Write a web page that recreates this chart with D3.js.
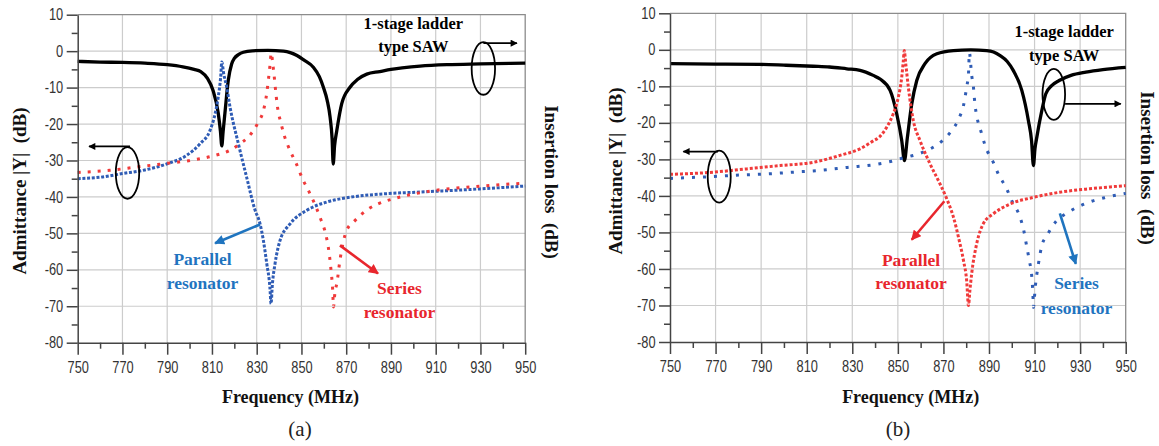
<!DOCTYPE html>
<html>
<head>
<meta charset="utf-8">
<script src="https://cdn.jsdelivr.net/npm/d3@7"></script>
<style>
  html, body { margin: 0; padding: 0; background: #fff; }
  svg { display: block; }
</style>
</head>
<body>
<svg id="chart" width="1159" height="446"></svg>
<script>
// Axis ticks
const freqTicks = [750, 770, 790, 810, 830, 850, 870, 890, 910, 930, 950];
const freqMinorTicks = [760, 780, 800, 820, 840, 860, 880, 900, 920, 940];
const levelTicks = [10, 0, -10, -20, -30, -40, -50, -60, -70, -80];
const levelMinorTicks = [5, -5, -15, -25, -35, -45, -55, -65, -75];

// (a) insertion loss of the 1-stage ladder filter, [MHz, dB]
const aLadder = [[750,-2.8],[760,-3.0],[770,-3.1],[780,-3.3],[790,-3.7],[797,-4.3],[802,-5.0],[805,-5.6],
  [808,-7.5],[810.5,-10.8],[812.8,-17],[813.8,-22],[814.4,-26],[815,-22],[815.8,-17],[817.3,-8],
  [818.8,-3.5],[820,-2],[822,-0.9],[824,-0.3],[828,0.1],[835,0.2],[842,0],[845,-0.4],[848,-1.2],
  [851,-2.4],[855.3,-4.4],[858,-7],[859.8,-9.9],[861.5,-13.5],[862.8,-18.1],[863.7,-24],[864.2,-31],
  [864.8,-26],[865.8,-21.8],[868,-14.4],[871.7,-9.9],[875,-7.8],[879.2,-6.3],[885,-5.6],[890,-5.0],
  [895,-4.6],[903,-4.1],[915,-3.7],[930,-3.5],[950,-3.3]];
// (a) admittance of the parallel resonator
const aParallel = [[750,-35],[760,-34.6],[770,-33.6],[780,-32.6],[790,-30.9],[798.7,-28.6],[804.7,-25.4],
  [809.1,-21.8],[811.4,-17.2],[812.8,-12.6],[813.9,-7.1],[814.4,-3],[815.2,-6],[816.6,-9.9],[818.1,-15.4],
  [821.8,-25.4],[825.5,-34.6],[829.2,-43.5],[831.5,-47.4],[833,-52],[834.5,-58.3],[835.9,-64.8],
  [836.4,-69.3],[837,-64],[838.2,-58.3],[840.4,-52],[844.9,-47.4],[852.3,-43.7],[861.3,-41.4],
  [871.7,-40.1],[888.1,-39.1],[901.5,-38.7],[929.8,-37.8],[950,-37]];
// (a) admittance of the series resonator
const aSeries = [[750,-33.3],[764.4,-32.7],[776.4,-31.8],[788.3,-30.9],[800.2,-30],[811.4,-28.6],
  [818.1,-27.2],[822.5,-25.4],[826.2,-23.6],[830.7,-19.5],[833,-16.3],[834.5,-11.5],[835.2,-8],
  [836,-3.5],[836.5,-0.5],[837.2,-3.5],[837.7,-6.2],[838.6,-11.7],[839.2,-14.9],[840.9,-19.9],
  [842.2,-22.9],[845.2,-27.7],[847.5,-30.6],[850.8,-35.5],[853.1,-38.2],[858.3,-45.6],[861,-50.6],
  [862,-53.8],[863.2,-60],[864,-66],[864.3,-70.2],[865,-66],[865.8,-63.8],[867.2,-57.4],[870.2,-49.2],
  [873.9,-46.5],[879.9,-43.3],[884.3,-41.9],[891.1,-40.5],[897,-39.6],[907.5,-38.4],[931.3,-37],[950,-36.2]];

// (b) insertion loss of the 1-stage ladder filter
const bLadder = [[750,-3.8],[770,-3.9],[789.5,-4.0],[800,-4.2],[812.9,-4.5],[820,-4.7],[827.6,-5.2],
  [833.4,-5.6],[839.2,-7.0],[842.2,-8.0],[846.6,-11.1],[849.5,-17.5],[851.7,-24.8],[852.9,-30.3],
  [854.2,-23.9],[856.1,-14.8],[858.3,-8.4],[861.9,-3.8],[867.1,-1.1],[874.4,-0.2],[882,0],[889,-0.2],
  [892,-0.6],[894.9,-1.6],[898,-3.2],[900.7,-5.7],[904.4,-11.1],[907.3,-19.4],[908.7,-25],[909.5,-31.7],
  [910.2,-27],[911,-23.9],[913.2,-16.6],[914.9,-12.1],[917.5,-9.8],[920.8,-8.4],[926,-7.0],[932.5,-6.1],
  [940,-5.4],[950,-4.8]];
// (b) admittance of the parallel resonator
const bParallel = [[750,-34.1],[769,-33.5],[783.7,-32.6],[798.3,-31.7],[812.9,-30.8],[824.6,-28.9],
  [833.4,-27.1],[839,-25.0],[842,-23.8],[845.1,-21.2],[848,-17.5],[850.2,-13],[851.7,-7.5],[852.4,-3],
  [852.8,-0.2],[853.5,-4],[854.6,-10.2],[856.8,-19.4],[859.7,-24.8],[864.1,-31.2],[868.5,-36.7],
  [871.2,-40.4],[874.4,-45.8],[876.6,-51.3],[878.8,-57.7],[880.2,-63.2],[881,-70],[881.6,-66],
  [882.4,-61.3],[884.6,-53.1],[887.5,-47.6],[891.9,-44.9],[899.3,-42.2],[909.5,-40.4],[921,-39],
  [935,-38],[950,-37.2]];
// (b) admittance of the series resonator
const bSeries = [[750,-35.2],[768.7,-34.7],[780.4,-34.3],[792.1,-34],[804.1,-33.5],[816.1,-33],
  [827.8,-32.2],[840,-31.4],[847.3,-30.5],[851.7,-29.7],[859,-28.5],[863.4,-27.4],[869.7,-24.8],
  [873,-22.6],[877,-18.5],[878.8,-15.3],[880.2,-10.2],[881,-6.6],[881.4,-0.8],[882.4,-7],[883.1,-9.8],
  [883.9,-15.3],[884.6,-18],[886.8,-23],[888.3,-26.2],[891.9,-30.8],[894.1,-34],[897.8,-38.1],
  [900,-41.3],[903.6,-45.8],[905.1,-49],[906.6,-54],[907.7,-57.7],[908.8,-62.3],[909.3,-67.3],
  [909.5,-70.5],[910.3,-65],[911.7,-58.6],[913.2,-53.6],[915.4,-50.9],[919.8,-46.7],[923.7,-44.9],
  [934,-41.7],[941.3,-40.4],[950,-39.3]];

const BLUE_DOT = "#2f5cb5";
const RED_DOT = "#f03a3a";
const BLUE_TXT = "#1f74bf";
const RED_TXT = "#e8262d";

const svg = d3.select("#chart");
const defs = svg.append("defs");

function arrowMarker(id, color, w, h) {
  defs.append("marker")
    .attr("id", id)
    .attr("viewBox", "0 0 10 10")
    .attr("refX", 9).attr("refY", 5)
    .attr("markerUnits", "userSpaceOnUse")
    .attr("markerWidth", w).attr("markerHeight", h)
    .attr("orient", "auto")
    .append("path").attr("d", "M0,0 L10,5 L0,10 Z").attr("fill", color);
}
arrowMarker("head-black", "#000", 9, 7);
arrowMarker("head-blue", BLUE_TXT, 11, 10);
arrowMarker("head-red", RED_TXT, 11, 10);

const serif = "'Liberation Serif', 'Times New Roman', serif";
const sans = "'Liberation Sans', Arial, sans-serif";

const panels = [
  {
    left: 77.7, right: 525.2, top: 14.7, bottom: 342.7,
    ladder: aLadder,
    dotted: [
      { data: aParallel, color: BLUE_DOT, dash: "3,1.7" },
      { data: aSeries, color: RED_DOT, dash: "3,7" }
    ],
    leftTitle: { x: 25.5, y: 191 }, rightTitle: { x: 545, y: 182 },
    freqTitle: { x: 290.5 }, caption: { x: 300, text: "(a)" },
    ladderText: { f: 900, v1: 6.15, v2: -0.27 },
    leftOval: { f: 772.26, v: -33.42, rf: 5.23, rv: 7.08 },
    leftArrow: { f1: 773.4, f2: 755.05, v: -26.15 },
    rightOval: { f: 931.3, v: -4.75, rf: 5.23, rv: 7.22 },
    rightArrow: { f1: 931.3, f2: 946.3, v: 2.2 },
    notes: [
      { lines: ["Parallel", "resonator"], f: 805.8, v: [-58.8, -65.2], color: BLUE_TXT,
        arrow: { f1: 831.5, v1: -47.56, f2: 811.4, v2: -52.7, head: "head-blue" } },
      { lines: ["Series", "resonator"], f: 893.8, v: [-66.6, -73.2], color: RED_TXT,
        arrow: { f1: 867.2, v1: -53.3, f2: 884.2, v2: -61, head: "head-red" } }
    ]
  },
  {
    left: 670, right: 1125.7, top: 13.3, bottom: 342,
    ladder: bLadder,
    dotted: [
      { data: bSeries, color: BLUE_DOT, dash: "3,8" },
      { data: bParallel, color: RED_DOT, dash: "3,2" }
    ],
    leftTitle: { x: 621.7, y: 171 }, rightTitle: { x: 1140.7, y: 168 },
    freqTitle: { x: 910.7 }, caption: { x: 898, text: "(b)" },
    ladderText: { f: 923, v1: 3.64, v2: -2.93 },
    leftOval: { f: 771.6, v: -34.7, rf: 5.05, rv: 7.12 },
    leftArrow: { f1: 771.07, f2: 755.84, v: -27.85 },
    rightOval: { f: 918.44, v: -12.19, rf: 4.96, rv: 6.98 },
    rightArrow: { f1: 923.4, f2: 947.85, v: -14.79 },
    notes: [
      { lines: ["Parallel", "resonator"], f: 855.8, v: [-59.1, -65.4], color: RED_TXT,
        arrow: { f1: 870.4, v1: -41.46, f2: 856.1, v2: -52.0, head: "head-red" } },
      { lines: ["Series", "resonator"], f: 928.4, v: [-65.4, -72.3], color: BLUE_TXT,
        arrow: { f1: 921.1, v1: -44.8, f2: 928.1, v2: -58.6, head: "head-blue" } }
    ]
  }
];

function squeezeTickText(sel, factor) {
  sel.selectAll(".tick text").each(function () {
    const w = this.getComputedTextLength();
    this.setAttribute("textLength", (w * factor).toFixed(2));
    this.setAttribute("lengthAdjust", "spacingAndGlyphs");
  });
}

function drawPanel(p) {
  const x = d3.scaleLinear().domain([750, 950]).range([p.left, p.right]);
  const y = d3.scaleLinear().domain([-80, 10]).range([p.bottom, p.top]);
  const g = svg.append("g");

  // grid
  const grid = g.append("g").attr("stroke", "#cccccc").attr("stroke-width", 1.2);
  grid.selectAll("line.h").data(levelTicks.filter(v => v > -80 && v < 10)).join("line")
    .attr("x1", p.left).attr("x2", p.right)
    .attr("y1", d => y(d)).attr("y2", d => y(d));
  grid.selectAll("line.v").data(freqTicks.filter(f => f > 750 && f < 950)).join("line")
    .attr("y1", p.top).attr("y2", p.bottom)
    .attr("x1", d => x(d)).attr("x2", d => x(d));

  // top and right frame
  g.append("path")
    .attr("d", `M${x(750)},${y(10)}H${x(950)}V${y(-80)}`)
    .attr("fill", "none").attr("stroke", "#8c8c8c").attr("stroke-width", 1.3);

  const line = d3.line().x(d => x(d[0])).y(d => y(d[1])).curve(d3.curveMonotoneX);

  // filter response
  g.append("path").datum(p.ladder).attr("d", line)
    .attr("fill", "none").attr("stroke", "#000").attr("stroke-width", 3.3)
    .attr("stroke-linejoin", "round");

  // resonator admittances
  p.dotted.forEach(s => {
    g.append("path").datum(s.data).attr("d", line)
      .attr("fill", "none").attr("stroke", s.color).attr("stroke-width", 3)
      .attr("stroke-dasharray", s.dash);
  });

  // axes
  const yAxis = g.append("g").attr("transform", `translate(${p.left},0)`)
    .call(d3.axisLeft(y).tickValues(levelTicks).tickSize(11).tickSizeOuter(0).tickPadding(3.5)
      .tickFormat(d => String(d)));
  g.append("g").attr("transform", `translate(${p.left},0)`)
    .call(d3.axisLeft(y).tickValues(levelMinorTicks).tickSize(6).tickFormat(""))
    .call(a => a.select(".domain").remove());
  const xAxis = g.append("g").attr("transform", `translate(0,${p.bottom})`)
    .call(d3.axisBottom(x).tickValues(freqTicks).tickSize(12).tickSizeOuter(0).tickPadding(7)
      .tickFormat(d => String(d)));
  g.append("g").attr("transform", `translate(0,${p.bottom})`)
    .call(d3.axisBottom(x).tickValues(freqMinorTicks).tickSize(6).tickFormat(""))
    .call(a => a.select(".domain").remove());

  g.selectAll(".domain, .tick line").attr("stroke", "#444").attr("stroke-width", 1.5);
  [yAxis, xAxis].forEach(a => {
    a.selectAll(".tick text").attr("font-family", sans).attr("font-size", 16).attr("fill", "#333");
    squeezeTickText(a, 0.8);
  });

  // axis titles
  g.append("text")
    .attr("transform", `translate(${p.leftTitle.x},${p.leftTitle.y}) rotate(-90)`)
    .attr("text-anchor", "middle").attr("font-family", serif).attr("font-weight", "bold")
    .attr("font-size", 19).style("white-space", "pre").attr("fill", "#111")
    .text("Admittance |Y|  (dB)");
  g.append("text")
    .attr("transform", `translate(${p.rightTitle.x},${p.rightTitle.y}) rotate(90)`)
    .attr("text-anchor", "middle").attr("font-family", serif).attr("font-weight", "bold")
    .attr("font-size", 19).style("white-space", "pre").attr("fill", "#111")
    .text("Insertion loss  (dB)");
  g.append("text")
    .attr("x", p.freqTitle.x).attr("y", 402.7)
    .attr("text-anchor", "middle").attr("font-family", serif).attr("font-weight", "bold")
    .attr("font-size", 18).attr("fill", "#111")
    .text("Frequency (MHz)");
  g.append("text")
    .attr("x", p.caption.x).attr("y", 436)
    .attr("text-anchor", "middle").attr("font-family", serif)
    .attr("font-size", 21).attr("fill", "#222")
    .text(p.caption.text);

  // filter label
  const lt = g.append("text").attr("text-anchor", "middle").attr("font-family", serif)
    .attr("font-weight", "bold").attr("font-size", 16.5).attr("fill", "#000");
  lt.append("tspan").attr("x", x(p.ladderText.f)).attr("y", y(p.ladderText.v1)).text("1-stage ladder");
  lt.append("tspan").attr("x", x(p.ladderText.f)).attr("y", y(p.ladderText.v2)).text("type SAW");

  // ovals with axis pointers
  [p.leftOval, p.rightOval].forEach(o => {
    g.append("ellipse")
      .attr("cx", x(o.f)).attr("cy", y(o.v))
      .attr("rx", x(o.f + o.rf) - x(o.f)).attr("ry", y(o.v - o.rv) - y(o.v))
      .attr("fill", "none").attr("stroke", "#000").attr("stroke-width", 1.8);
  });
  [p.leftArrow, p.rightArrow].forEach(a => {
    g.append("line")
      .attr("x1", x(a.f1)).attr("x2", x(a.f2)).attr("y1", y(a.v)).attr("y2", y(a.v))
      .attr("stroke", "#000").attr("stroke-width", 1.8).attr("marker-end", "url(#head-black)");
  });

  // resonator labels
  p.notes.forEach(n => {
    const t = g.append("text").attr("text-anchor", "middle").attr("font-family", serif)
      .attr("font-weight", "bold").attr("font-size", 17.5).attr("fill", n.color);
    n.lines.forEach((s, i) => t.append("tspan").attr("x", x(n.f)).attr("y", y(n.v[i])).text(s));
    g.append("line")
      .attr("x1", x(n.arrow.f1)).attr("y1", y(n.arrow.v1))
      .attr("x2", x(n.arrow.f2)).attr("y2", y(n.arrow.v2))
      .attr("stroke", n.color).attr("stroke-width", 2.6)
      .attr("marker-end", `url(#${n.arrow.head})`);
  });
}

panels.forEach(drawPanel);
</script>
</body>
</html>
